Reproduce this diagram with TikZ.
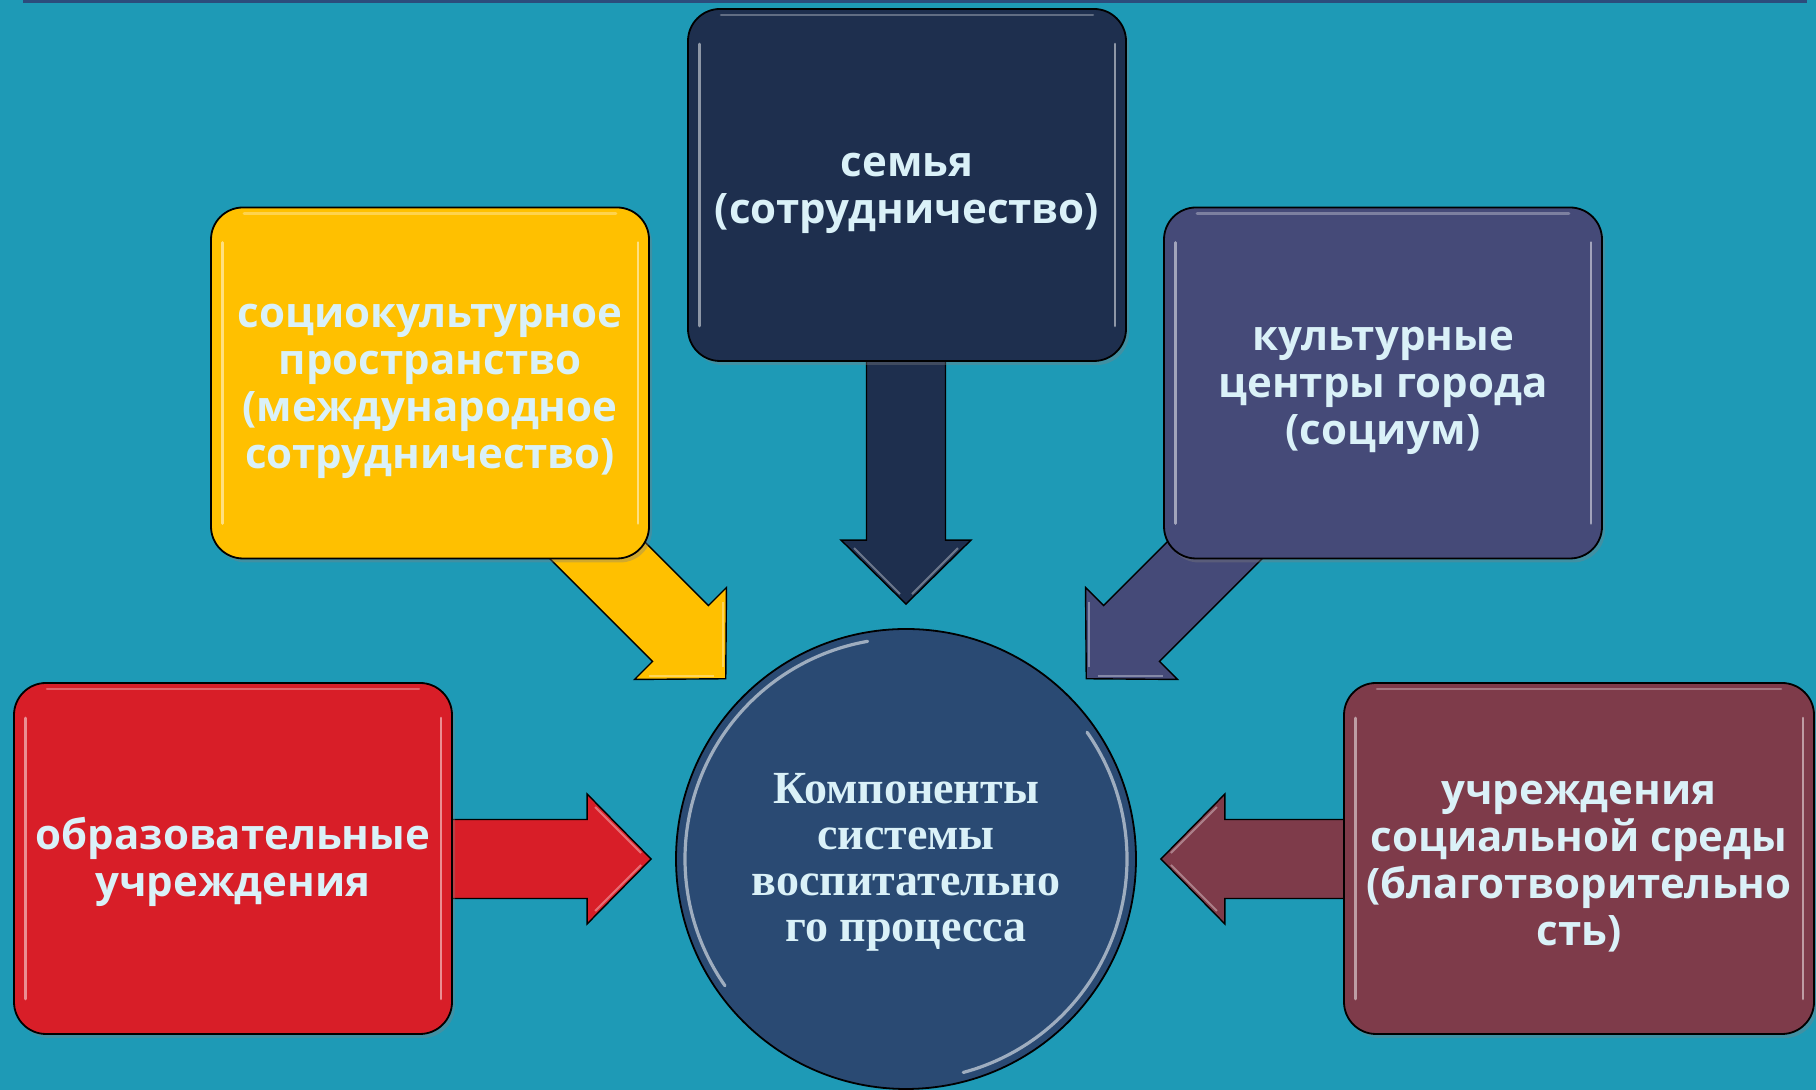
\documentclass[tikz,border=0pt]{standalone}
\usepackage{fontspec}
\setmainfont{Liberation Serif}
\newfontfamily\boxfont{Open Sans}
\usetikzlibrary{shadows,calc}
\definecolor{bgc}{RGB}{30,154,182}
\definecolor{topbar}{RGB}{44,76,124}
\definecolor{navy}{RGB}{30,47,78}
\definecolor{gold}{RGB}{255,192,0}
\definecolor{violet}{RGB}{69,74,120}
\definecolor{crimson}{RGB}{216,30,40}
\definecolor{wine}{RGB}{126,59,74}
\definecolor{corec}{RGB}{42,74,115}
\definecolor{txt}{RGB}{218,241,248}
\newcommand\mytopstrut{\rule{0pt}{20pt}}
\newcommand\mytopstrutS{\rule{0pt}{18.6pt}}
\pgfdeclarelayer{back}
\pgfsetlayers{back,main}
\tikzset{
  pics/barrow/.style={code={
    \path[pic actions] (0,0) -- (-64,65) -- (-64,39.5) -- (-#1,39.5) -- (-#1,-39.5) -- (-64,-39.5) -- (-64,-65) -- cycle;
    \draw[white,opacity=0.35,line width=1pt] (-10,6) -- (-56,52);
    \draw[white,opacity=0.35,line width=1pt] (-10,-6) -- (-56,-52);
  }},
  boxstyle/.style={rectangle, rounded corners=16pt, draw=black, line width=0.9pt,
    minimum height=175.5pt, align=center, text=txt, inner sep=0pt,
    font=\boxfont\bfseries\fontsize{21}{23.5}\selectfont,
    drop shadow={shadow xshift=1.5pt, shadow yshift=-2pt, opacity=0.35}},
  gloss/.style={draw=white, opacity=0.5, line width=1.4pt, line cap=round},
  arrowline/.style={draw=black, line width=0.7pt},
}
\begin{document}
\begin{tikzpicture}[x=0.5pt,y=0.5pt]
\useasboundingbox (0,0) rectangle (1816,1090);

% boxes
\node[boxstyle, fill=navy, minimum width=219pt, minimum height=176pt] (fam) at (907,905)
  {\mytopstrut семья\\(сотрудничество)};
\node[boxstyle, fill=gold, minimum width=219pt] (soc) at (430,707)
  {\mytopstrut социокультурное\\пространство\\(международное\\сотрудничество)};
\node[boxstyle, fill=violet, minimum width=219pt] (cult) at (1383,707)
  {\mytopstrut культурные\\центры города\\(социум)};
\node[boxstyle, fill=crimson, minimum width=219pt] (edu) at (233,231.5)
  {\mytopstrut образовательные\\учреждения};
\node[boxstyle, fill=wine, minimum width=235pt] (char) at (1579,231.5)
  {\mytopstrut учреждения\\социальной среды\\(благотворительно\\сть)};

% centre circle
\node[circle, fill=corec, draw=black, line width=0.9pt, minimum size=230pt, inner sep=0pt,
      align=center, text=txt, font=\bfseries\fontsize{23}{23}\selectfont] (core) at (906,231)
  {\mytopstrutS Компоненты\\системы\\воспитательно\\го процесса};
\draw[white, opacity=0.55, line width=1.6pt, line cap=round] ($(core.center)+(100:221)$) arc[start angle=100, end angle=215, radius=221];
\draw[white, opacity=0.55, line width=1.6pt, line cap=round] ($(core.center)+(-75:221)$) arc[start angle=-75, end angle=35, radius=221];

% gloss on boxes
\foreach \n in {fam,soc,cult,edu,char}{
  \draw[gloss] ($(\n.south west)+(12,36)$) -- ($(\n.north west)+(12,-36)$);
  \draw[gloss] ($(\n.south east)+(-12,36)$) -- ($(\n.north east)+(-12,-36)$);
  \draw[gloss, opacity=0.3] ($(\n.north west)+(34,-7)$) -- ($(\n.north east)+(-34,-7)$);
}

% tips
\coordinate (tfam) at ($(core.north)+(0,24)$);
\coordinate (tsoc) at ($(core.north west)+(135:12pt)$);
\coordinate (tcult) at ($(core.north east)+(45:12pt)$);
\coordinate (tedu) at ($(core.west)+(-24,0)$);
\coordinate (tchar) at ($(core.east)+(24,0)$);

\begin{pgfonlayer}{back}
  \fill[bgc] (0,0) rectangle (1816,1090);
  \fill[topbar] (23,1087) rectangle (1807,1090);
  \path (tfam) pic[rotate=-90, fill=navy, arrowline]{barrow=280};
  \path (tsoc) pic[rotate=-45, fill=gold, arrowline]{barrow=230};
  \path (tcult) pic[rotate=-135, fill=violet, arrowline]{barrow=230};
  \path (tedu) pic[rotate=0, fill=crimson, arrowline]{barrow=240};
  \path (tchar) pic[rotate=180, fill=wine, arrowline]{barrow=210};
\end{pgfonlayer}
\end{tikzpicture}
\end{document}
